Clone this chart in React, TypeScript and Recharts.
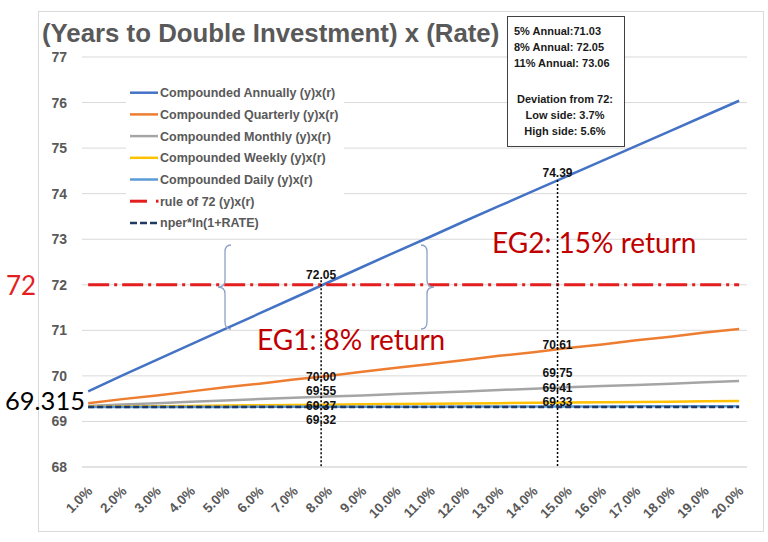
import React from 'react';
import {
  LineChart,
  Line,
  XAxis,
  YAxis,
  CartesianGrid,
  ReferenceLine,
  ReferenceDot,
  Legend,
} from 'recharts';

// ---------- data ----------
const rates = [1, 2, 3, 4, 5, 6, 7, 8, 9, 10, 11, 12, 13, 14, 15, 16, 17, 18, 19, 20];
const annual = [69.66, 70.01, 70.35, 70.69, 71.03, 71.37, 71.71, 72.05, 72.39, 72.73, 73.06, 73.4, 73.73, 74.06, 74.39, 74.72, 75.05, 75.38, 75.71, 76.04];
const quarterly = [69.4, 69.49, 69.57, 69.66, 69.75, 69.83, 69.92, 70.0, 70.09, 70.18, 70.26, 70.35, 70.44, 70.52, 70.61, 70.69, 70.78, 70.86, 70.95, 71.03];
const monthly = [69.34, 69.37, 69.4, 69.43, 69.46, 69.49, 69.52, 69.55, 69.57, 69.6, 69.63, 69.66, 69.69, 69.72, 69.75, 69.78, 69.8, 69.83, 69.86, 69.89];
const weekly = [69.321, 69.328, 69.335, 69.341, 69.348, 69.355, 69.361, 69.368, 69.375, 69.381, 69.388, 69.395, 69.401, 69.408, 69.415, 69.421, 69.428, 69.435, 69.441, 69.448];
const daily = [69.316, 69.317, 69.318, 69.319, 69.319, 69.32, 69.321, 69.322, 69.323, 69.324, 69.325, 69.326, 69.327, 69.328, 69.329, 69.33, 69.331, 69.332, 69.333, 69.334];
const rule72 = [72, 72, 72, 72, 72, 72, 72, 72, 72, 72, 72, 72, 72, 72, 72, 72, 72, 72, 72, 72];
const nperLn = [69.315, 69.315, 69.315, 69.315, 69.315, 69.315, 69.315, 69.315, 69.315, 69.315, 69.315, 69.315, 69.315, 69.315, 69.315, 69.315, 69.315, 69.315, 69.315, 69.315];
const yTicks = [68, 69, 70, 71, 72, 73, 74, 75, 76, 77];

const seriesNames = [
  'Compounded Annually (y)x(r)',
  'Compounded Quarterly (y)x(r)',
  'Compounded Monthly (y)x(r)',
  'Compounded Weekly (y)x(r)',
  'Compounded Daily (y)x(r)',
  'rule of 72 (y)x(r)',
  'nper*ln(1+RATE)',
];
const seriesKeys = ['annual', 'quarterly', 'monthly', 'weekly', 'daily', 'rule72', 'nper'];

// annotations (value labels)
const eg1Labels = ['72.05', '70.00', '69.55', '69.37', '69.32'];
const eg2Labels = ['74.39', '70.61', '69.75', '69.41', '69.33'];
const infoLines = ['5% Annual:71.03', '8% Annual: 72.05', '11% Annual: 73.06'];
const deviationLines = ['Deviation from 72:', 'Low side: 3.7%', 'High side: 5.6%'];

// annotation placement (data units)
const eg1X = 7.8;
const eg2X = 14.7;
const eg1LabelY = [72.21, 69.975, 69.67, 69.34, 69.03];
const eg2LabelY = [74.45, 70.68, 70.06, 69.73, 69.43];

const data = rates.map((r, i) => ({
  rate: r,
  annual: annual[i],
  quarterly: quarterly[i],
  monthly: monthly[i],
  weekly: weekly[i],
  daily: daily[i],
  rule72: rule72[i],
  nper: nperLn[i],
}));

// ---------- styles ----------
const FONT = '"Liberation Sans", Arial, sans-serif';
const CAL = 'Lato, "Open Sans", sans-serif';
const GRAY = '#595959';
const styles: Record<string, { stroke: string; width: number; dash?: string }> = {
  annual: { stroke: '#4472C4', width: 2.5 },
  quarterly: { stroke: '#ED7D31', width: 2.5 },
  monthly: { stroke: '#A5A5A5', width: 2.5 },
  weekly: { stroke: '#FFC000', width: 2.5 },
  daily: { stroke: '#5B9BD5', width: 2.5 },
  rule72: { stroke: '#E41E1E', width: 3, dash: '21 5 3 5' },
  nper: { stroke: '#1F3864', width: 2.5, dash: '6 3' },
};

const XTick = (props: any) => {
  const { x, y, payload } = props;
  return (
    <text
      transform={`translate(${x + 5},${y + 25}) rotate(-45)`}
      textAnchor="end"
      fontFamily={FONT}
      fontWeight={700}
      fontSize={13.5}
      fill={GRAY}
    >
      {`${Number(payload.value).toFixed(1)}%`}
    </text>
  );
};

const renderLegend = () => {
  const rowH = 21.7;
  return (
    <div style={{ background: '#fff', width: 218, height: 156 }}>
      <svg width={218} height={156}>
        {seriesKeys.map((k, i) => {
          const cy = 12.7 + i * rowH;
          const s = styles[k];
          let sample: React.ReactNode;
          if (k === 'rule72') {
            sample = (
              <g>
                <line x1={4} x2={21} y1={cy} y2={cy} stroke={s.stroke} strokeWidth={3} />
                <line x1={30} x2={32.5} y1={cy} y2={cy} stroke={s.stroke} strokeWidth={3} />
              </g>
            );
          } else if (k === 'nper') {
            sample = <line x1={4} x2={32} y1={cy} y2={cy} stroke={s.stroke} strokeWidth={2.5} strokeDasharray="7 3" />;
          } else {
            sample = <line x1={4} x2={32} y1={cy} y2={cy} stroke={s.stroke} strokeWidth={2.5} />;
          }
          return (
            <g key={k}>
              {sample}
              <text x={34} y={cy + 4.5} fontFamily={FONT} fontWeight={700} fontSize={12.5} fill={GRAY}>
                {seriesNames[i]}
              </text>
            </g>
          );
        })}
      </svg>
    </div>
  );
};

const labelStyle = (v: string) => ({
  value: v,
  position: 'center' as const,
  fill: '#111',
  fontSize: 12,
  fontWeight: 700,
  fontFamily: FONT,
});

export default function App() {
  return (
    <div style={{ position: 'absolute', left: 0, top: 0, width: 768, height: 542, background: '#fff', overflow: 'hidden' }}>
      <div
        style={{
          position: 'absolute',
          left: 38,
          top: 11,
          width: 724,
          height: 519,
          border: '1px solid #D9D9D9',
        }}
      />
      <div style={{ position: 'absolute', left: 0, top: 0 }}>
        <LineChart width={768} height={542} data={data} margin={{ top: 57, right: 21, bottom: 45, left: 0 }}>
          <CartesianGrid vertical={false} stroke="#D9D9D9" strokeWidth={1} />
          <XAxis
            dataKey="rate"
            type="number"
            domain={[0.82, 20.23]}
            ticks={rates}
            interval={0}
            height={30}
            tickLine={false}
            tickSize={0}
            tickMargin={0}
            axisLine={{ stroke: '#D9D9D9' }}
            tick={<XTick />}
          />
          <YAxis
            type="number"
            domain={[68, 77]}
            ticks={yTicks}
            width={82}
            axisLine={false}
            tickLine={false}
            tickSize={0}
            tickMargin={15}
            tick={{ fill: GRAY, fontSize: 14, fontWeight: 700, fontFamily: FONT }}
          />
          <Legend layout="vertical" align="center" verticalAlign="middle" wrapperStyle={{ left: 126, top: 80, width: 218, height: 156 }} content={renderLegend} />
          {seriesKeys.map((k, i) => (
            <Line
              key={k}
              type="linear"
              dataKey={k}
              name={seriesNames[i]}
              stroke={styles[k].stroke}
              strokeWidth={styles[k].width}
              strokeDasharray={styles[k].dash}
              dot={false}
              activeDot={false}
              isAnimationActive={false}
            />
          ))}
          <ReferenceLine
            segment={[
              { x: eg1X, y: 72.1 },
              { x: eg1X, y: 68 },
            ]}
            stroke="#000"
            strokeWidth={1.5}
            strokeDasharray="2 2"
          />
          <ReferenceLine
            segment={[
              { x: eg2X, y: 74.3 },
              { x: eg2X, y: 68 },
            ]}
            stroke="#000"
            strokeWidth={1.5}
            strokeDasharray="2 2"
          />
          {eg1Labels.map((t, i) => (
            <ReferenceDot key={'a' + i} x={eg1X} y={eg1LabelY[i]} r={0} stroke="none" fill="none" label={labelStyle(t)} />
          ))}
          {eg2Labels.map((t, i) => (
            <ReferenceDot key={'b' + i} x={eg2X} y={eg2LabelY[i]} r={0} stroke="none" fill="none" label={labelStyle(t)} />
          ))}
        </LineChart>
      </div>
      <svg width={768} height={542} style={{ position: 'absolute', left: 0, top: 0, pointerEvents: 'none' }}>
        <text x={42} y={42} fontFamily={FONT} fontWeight={700} fontSize={25.8} fill={GRAY}>
          (Years to Double Investment) x (Rate)
        </text>
        <rect x={507.5} y={16.5} width={117} height={130} fill="#fff" stroke="#404040" strokeWidth={1} />
        {infoLines.map((t, i) => (
          <text key={t} x={514} y={35 + i * 16.2} fontFamily={FONT} fontWeight={700} fontSize={11} fill="#1a1a1a">
            {t}
          </text>
        ))}
        {deviationLines.map((t, i) => (
          <text key={t} x={565} y={102.5 + i * 16.2} textAnchor="middle" fontFamily={FONT} fontWeight={700} fontSize={11} fill="#1a1a1a">
            {t}
          </text>
        ))}
        <text x={6} y={295} fontFamily={CAL} fontSize={26} fill="#E41E1E">
          72
        </text>
        <text x={5} y={410} fontFamily={CAL} fontSize={25.5} fill="#000">
          69.315
        </text>
        <text x={257} y={350} fontFamily={CAL} fontSize={28} fill="#C00000">
          EG1: 8% return
        </text>
        <text x={492} y={253} fontFamily={CAL} fontSize={28} fill="#C00000">
          EG2: 15% return
        </text>
        <path
          d="M231,245 Q225,245 225,252 L225,280 Q225,287 218,287 Q225,287 225,294 L225,322 Q225,329 231,329"
          fill="none"
          stroke="#8EA0C8"
          strokeWidth={1.3}
        />
        <path
          d="M421,245 Q427,245 427,252 L427,280 Q427,287 434,287 Q427,287 427,294 L427,322 Q427,329 421,329"
          fill="none"
          stroke="#8EA0C8"
          strokeWidth={1.3}
        />
      </svg>
    </div>
  );
}
